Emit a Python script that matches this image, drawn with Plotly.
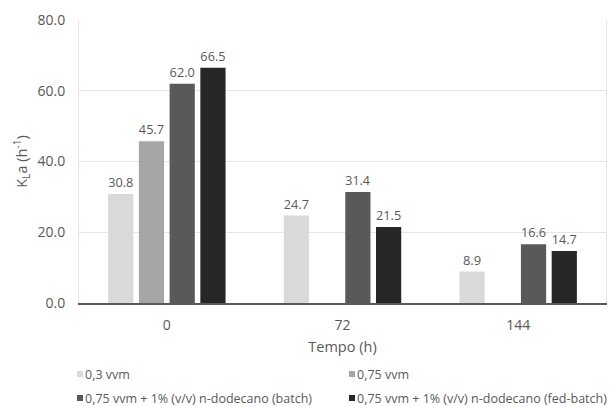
import plotly.graph_objects as go

categories = ["0", "72", "144"]
series_names = [
    "0,3 vvm",
    "0,75 vvm",
    "0,75 vvm + 1% (v/v) n-dodecano (batch)",
    "0,75 vvm + 1% (v/v) n-dodecano (fed-batch)",
]
s1 = [30.8, 24.7, 8.9]
s2 = [45.7, None, None]
s3 = [62.0, 31.4, 16.6]
s4 = [66.5, 21.5, 14.7]
y_ticks = [0, 20, 40, 60, 80]
colors = ["#d9d9d9", "#a5a5a5", "#595959", "#262626"]

TXT = "#595959"
W, H = 610, 407
ML, MR, MT, MB = 79, 4, 20, 104
PW, PH = W - ML - MR, H - MT - MB

def px_x(px):
    return (px - ML) / PW

def px_y(py):
    return (H - MB - py) / PH

fig = go.Figure()
for name, vals, col in zip(series_names, [s1, s2, s3, s4], colors):
    xs = [c for c, v in zip(categories, vals) if v is not None]
    ys = [v for v in vals if v is not None]
    fig.add_trace(go.Bar(
        x=xs, y=ys, name=name,
        marker=dict(color=col, line=dict(width=0)),
        texttemplate="%{y:.1f}", textposition="outside",
        textfont=dict(size=13, color=TXT, family="Open Sans"),
        cliponaxis=False, showlegend=False,
    ))

# manual legend (two columns, two rows) laid out like the reference
legend_cols = [77, 349, 77, 349]
legend_rows = [374, 374, 398, 398]
for name, col, lx, ly in zip(series_names, colors, legend_cols, legend_rows):
    fig.add_shape(
        type="rect", xref="paper", yref="paper",
        x0=px_x(lx), x1=px_x(lx + 6), y0=px_y(ly + 3), y1=px_y(ly - 3),
        fillcolor=col, line=dict(width=0),
    )
    fig.add_annotation(
        xref="paper", yref="paper", x=px_x(lx + 7), y=px_y(ly),
        xanchor="left", yanchor="middle", showarrow=False, borderpad=0,
        text=name, font=dict(size=12.5, color=TXT, family="Open Sans"),
    )

fig.update_layout(
    width=W, height=H,
    margin=dict(l=ML, r=MR, t=MT, b=MB, autoexpand=False),
    paper_bgcolor="white", plot_bgcolor="white",
    barmode="group", bargap=0.3, bargroupgap=0.18,
    font=dict(family="Open Sans", color=TXT, size=13),
    showlegend=False,
    xaxis=dict(
        type="category", categoryorder="array", categoryarray=categories,
        showline=True, linecolor="#595959", linewidth=1.5,
        ticks="", tickfont=dict(size=14, color=TXT), automargin=False,
        ticklabelstandoff=8,
        title=dict(text="Tempo (h)", font=dict(size=14.5, color=TXT), standoff=9),
    ),
    yaxis=dict(
        range=[0, 80], tickvals=y_ticks, tickformat=".1f",
        showgrid=True, gridcolor="#e6e6e6", gridwidth=1,
        zeroline=False, showline=True, linecolor="#e6e6e6", mirror=True,
        ticks="", tickfont=dict(size=14, color=TXT), automargin=False,
        ticklabelstandoff=10,
        title=dict(text="K<sub>L</sub>a (h<sup>-1</sup>)", font=dict(size=14.5, color=TXT), standoff=6),
    ),
)

fig.write_html(
    "out.html",
    config={"displayModeBar": False},
    post_script="document.body.style.margin='0';document.body.style.padding='0';window.dispatchEvent(new Event('resize'));",
)
